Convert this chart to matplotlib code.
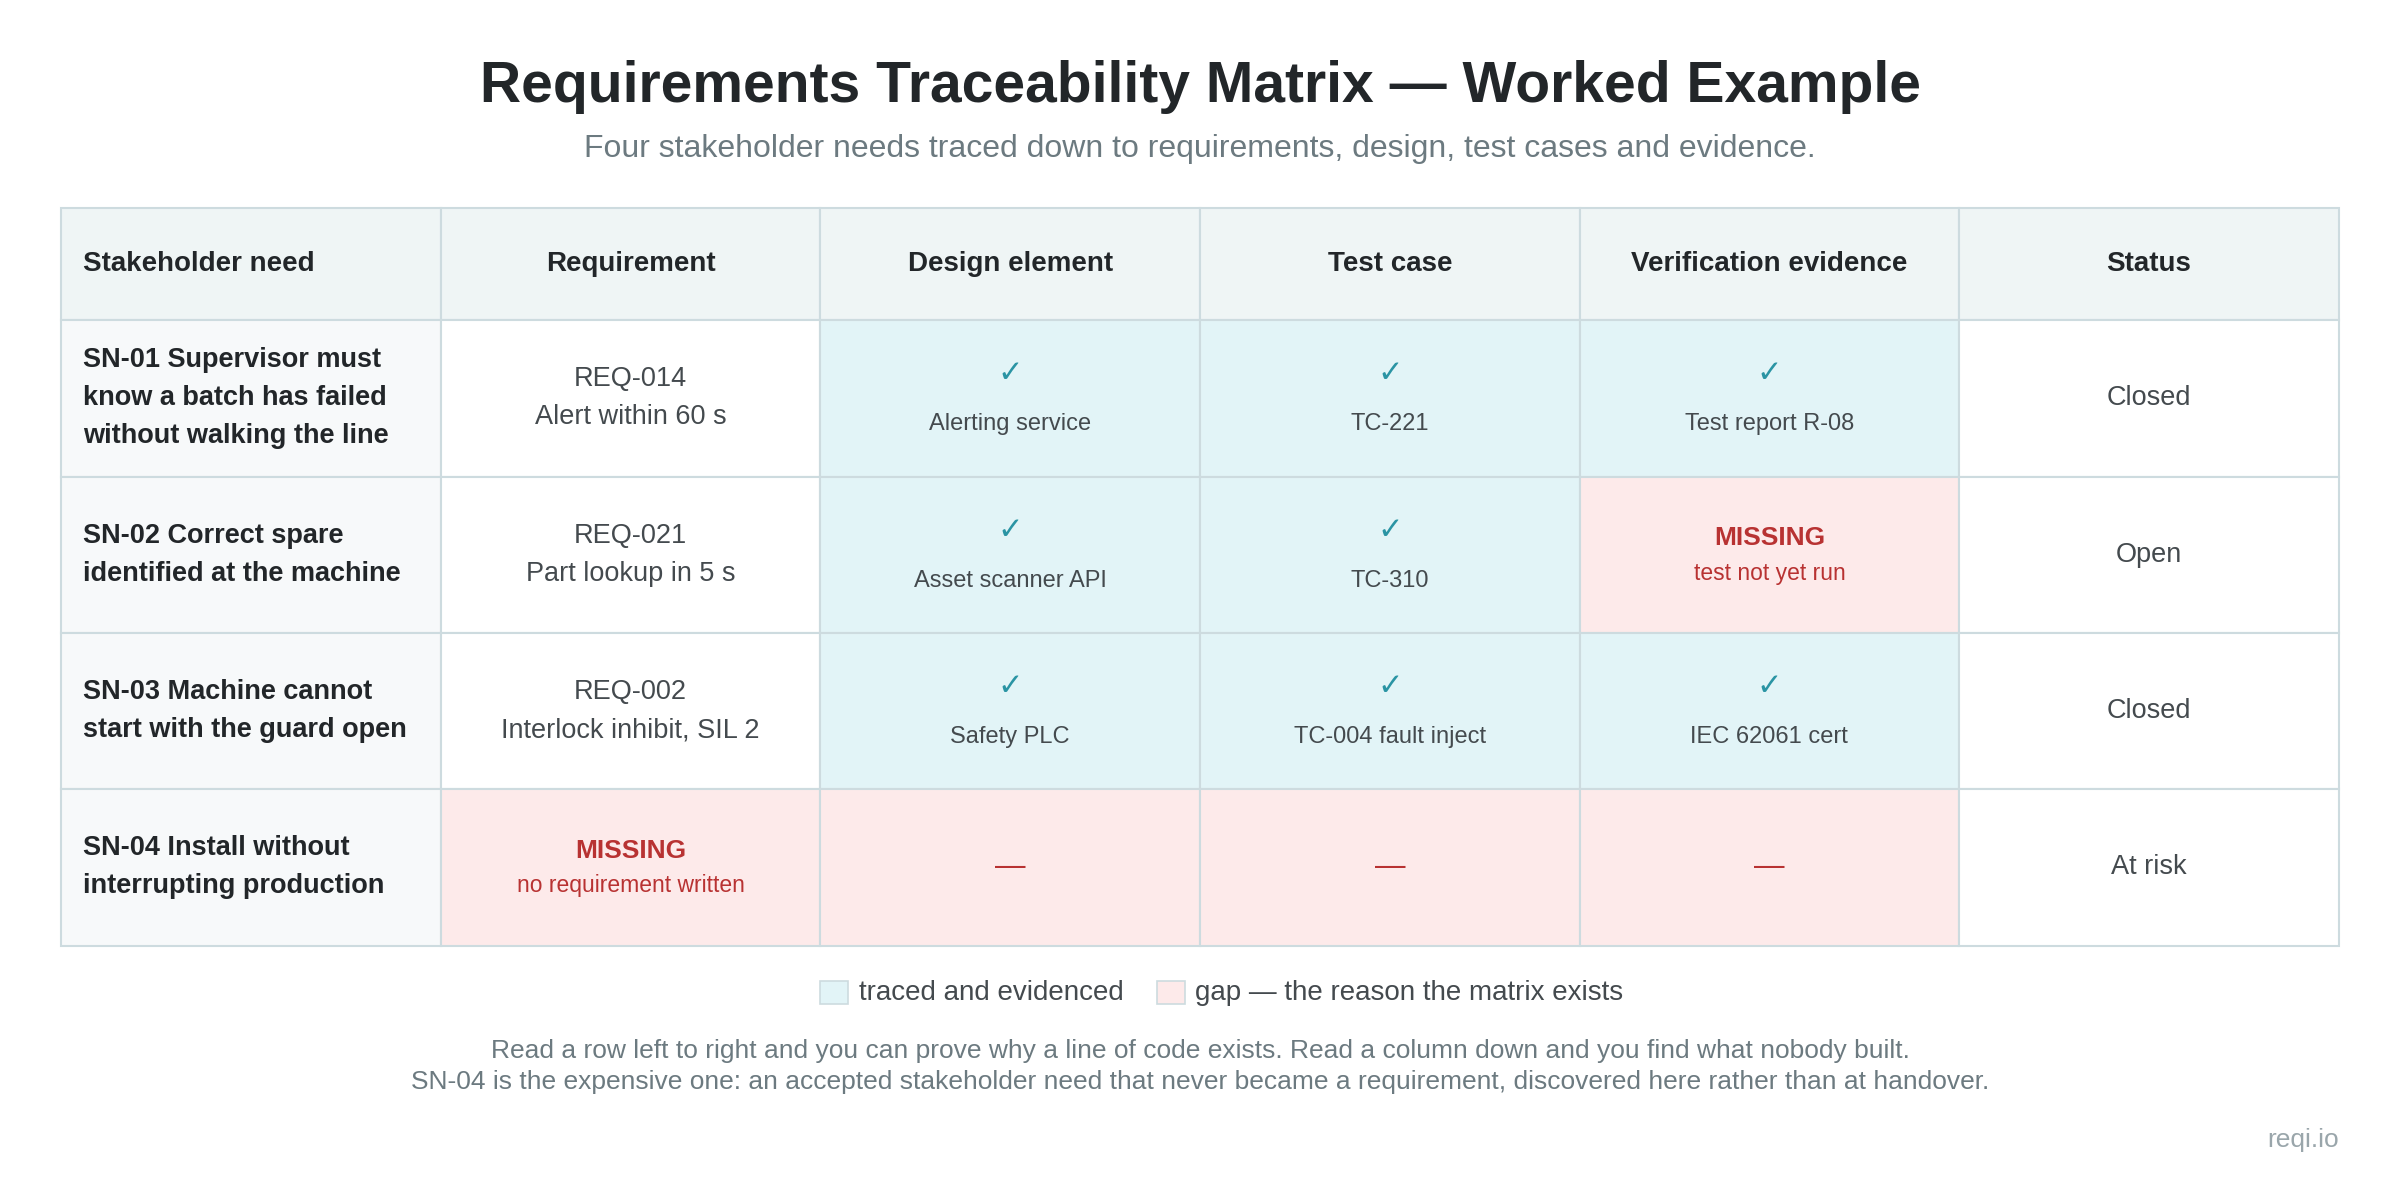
import matplotlib
matplotlib.use("Agg")
import matplotlib.pyplot as plt
from matplotlib.patches import Rectangle

plt.rcParams['font.family'] = ['Liberation Sans', 'DejaVu Sans']

headers = ["Stakeholder need", "Requirement", "Design element", "Test case", "Verification evidence", "Status"]
needs = ["SN-01 Supervisor must\nknow a batch has failed\nwithout walking the line",
         "SN-02 Correct spare\nidentified at the machine",
         "SN-03 Machine cannot\nstart with the guard open",
         "SN-04 Install without\ninterrupting production"]
requirements = [("REQ-014", "Alert within 60 s"), ("REQ-021", "Part lookup in 5 s"),
                ("REQ-002", "Interlock inhibit, SIL 2"), None]
designs = ["Alerting service", "Asset scanner API", "Safety PLC", None]
tests = ["TC-221", "TC-310", "TC-004 fault inject", None]
evidence = ["Test report R-08", None, "IEC 62061 cert", None]
status = ["Closed", "Open", "Closed", "At risk"]
missing_notes = {(1, 4): "test not yet run", (3, 1): "no requirement written"}

HEAD_BG = "#eff5f5"; NEED_BG = "#f7f9fa"; OK_BG = "#e2f4f7"; GAP_BG = "#fdeaea"
GRID = "#cddbdf"; DARK = "#222629"; BODY = "#444a4e"; RED = "#b83232"; TEAL = "#2a94a4"; GREY = "#6c7a80"

fig = plt.figure(figsize=(24, 11.8), dpi=100)
ax = fig.add_axes([0, 0, 1, 1])
ax.set_xlim(0, 1568); ax.set_ylim(770, 0); ax.axis("off")

ax.text(784, 57, "Requirements Traceability Matrix — Worked Example", ha="center", va="center",
        fontsize=41, fontweight="bold", color=DARK)
ax.text(784, 97, "Four stakeholder needs traced down to requirements, design, test cases and evidence.",
        ha="center", va="center", fontsize=23, color=GREY)

x0, cw = 40, 248
y_head, hh, rh = 136, 73, 102

def cell(c, y, h, fc):
    ax.add_patch(Rectangle((x0 + c * cw, y), cw, h, facecolor=fc, edgecolor=GRID, lw=1.5))

for c, h in enumerate(headers):
    cell(c, y_head, hh, HEAD_BG)
    cx = x0 + 14 if c == 0 else x0 + c * cw + cw / 2
    ax.text(cx, y_head + hh / 2, h, ha="left" if c == 0 else "center", va="center",
            fontsize=20, fontweight="bold", color=DARK)

for r in range(4):
    y = y_head + hh + r * rh
    cy = y + rh / 2
    cell(0, y, rh, NEED_BG)
    ax.text(x0 + 14, cy, needs[r], ha="left", va="center", fontsize=19.5, fontweight="bold",
            color=DARK, linespacing=1.6)
    # requirement
    req = requirements[r]
    if req is None:
        cell(1, y, rh, GAP_BG)
    else:
        cell(1, y, rh, "white")
        ax.text(x0 + 1.5 * cw, cy, req[0] + "\n" + req[1], ha="center", va="center",
                fontsize=19.5, color=BODY, linespacing=1.6)
    for c, vals in ((2, designs), (3, tests), (4, evidence)):
        v = vals[r]
        cx = x0 + c * cw + cw / 2
        if v is not None:
            cell(c, y, rh, OK_BG)
            ax.text(cx, cy - 16, "✓", ha="center", va="center", fontsize=22, color=TEAL,
                    family=['DejaVu Sans'])
            ax.text(cx, cy + 17, v, ha="center", va="center", fontsize=17, color=BODY)
        else:
            cell(c, y, rh, GAP_BG)
    for (rr, cc), note in missing_notes.items():
        if rr == r:
            cx = x0 + cc * cw + cw / 2
            ax.text(cx, cy - 11, "MISSING", ha="center", va="center", fontsize=19,
                    fontweight="bold", color=RED)
            ax.text(cx, cy + 12, note, ha="center", va="center", fontsize=16.5, color=RED)
    if r == 3:
        for c in (2, 3, 4):
            ax.text(x0 + c * cw + cw / 2, cy, "—", ha="center", va="center", fontsize=22, color=RED)
    cell(5, y, rh, "white")
    ax.text(x0 + 5.5 * cw, cy, status[r], ha="center", va="center", fontsize=19.5, color=BODY)

# legend
ax.add_patch(Rectangle((536, 640), 18, 15, facecolor=OK_BG, edgecolor=GRID, lw=1.2))
ax.text(561, 648, "traced and evidenced", ha="left", va="center", fontsize=20, color=BODY)
ax.add_patch(Rectangle((756, 640), 18, 15, facecolor=GAP_BG, edgecolor=GRID, lw=1.2))
ax.text(781, 648, "gap — the reason the matrix exists", ha="left", va="center", fontsize=20, color=BODY)

ax.text(784, 686, "Read a row left to right and you can prove why a line of code exists. Read a column down and you find what nobody built.",
        ha="center", va="center", fontsize=19, color=GREY)
ax.text(784, 706, "SN-04 is the expensive one: an accepted stakeholder need that never became a requirement, discovered here rather than at handover.",
        ha="center", va="center", fontsize=19, color=GREY)
ax.text(1528, 744, "reqi.io", ha="right", va="center", fontsize=19, color="#9aa6ab")

fig.savefig("out.png", dpi=100)
